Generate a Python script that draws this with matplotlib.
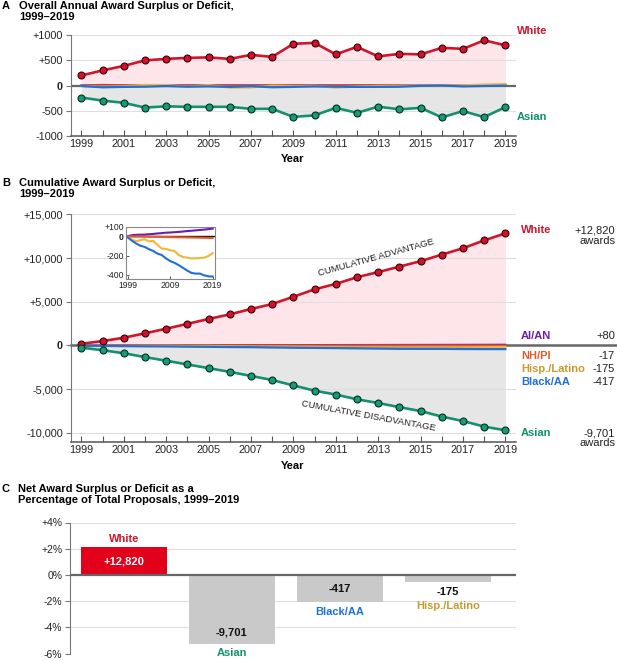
import numpy as np
import matplotlib.pyplot as plt

W, H = 617, 661

years = list(range(1999, 2020))

# annual award surplus (+) or deficit (-) per group
white = [200, 300, 390, 500, 530, 550, 560, 530, 610, 570, 830, 850, 620, 770, 580,
         630, 620, 750, 730, 900, 800]
asian = [-240, -300, -345, -440, -415, -425, -425, -425, -465, -465, -625, -595, -445,
         -545, -421, -475, -445, -635, -510, -630, -430]
aian = [2, 10, 4, 1, 1, 4, 3, 5, 3, 5, 2, 3, 3, 4, 5, 3, 4, 4, 4, 5, 5]
nhpi = [0, -1, -1, 0, -1, -1, -1, 0, -1, -1, -1, -1, -1, 0, -1, -1, -1, -1, -1, -1, -1]
hisp = [-8, -27, -15, 11, 9, -23, 7, -42, -38, -4, -14, -7, -42, -21, -7, -7, 0, 3, 4,
        18, 28]
black = [-10, -36, -28, -24, -11, -24, -18, -28, -14, -35, -28, -18, -24, -28, -28,
         -25, -7, 0, -18, -10, -3]

# panel C
groups_c = ['White', 'Asian', 'Black/AA', 'Hisp./Latino']
pct_c = [2.1, -5.28, -2.08, -0.55]
counts_c = ['+12,820', '-9,701', '-417', '-175']

RED = '#d0152d'
RED_DOT = '#d80f2a'
TEAL = '#13906e'
TEAL_DOT = '#179a77'
PINK = '#fde5e9'
GREYFILL = '#e6e6e6'
PURPLE = '#6c1db0'
NHPI = '#e35a2b'
HISP = '#f6b43a'
HISP_TXT = '#c79a2e'
BLUE = '#1f70d4'
ZERO = '#666666'
GRID = '#dedede'

plt.rcParams['font.family'] = ['Liberation Sans', 'DejaVu Sans']

fig = plt.figure(figsize=(6.17, 6.61), dpi=100)


def rect(l, t, r, b):
    return [l / W, 1 - b / H, (r - l) / W, (b - t) / H]


def ftext(x, y, s, **kw):
    kw.setdefault('va', 'center')
    fig.text(x / W, 1 - y / H, s, **kw)


def style_time_axis(ax, yticks, ylabels):
    ax.set_xlim(1998.5, 2019.5)
    ax.set_xticks(years)
    ax.set_xticklabels([str(y) if y % 2 == 1 else '' for y in years])
    ax.set_yticks(yticks)
    ax.set_yticklabels(ylabels)
    ax.tick_params(axis='x', direction='in', length=4, width=0.8, color='#555',
                   pad=2.5, labelsize=7.8, labelcolor='#222')
    ax.tick_params(axis='y', direction='out', length=3.5, width=0.8, color='#777',
                   pad=2, labelsize=7.8, labelcolor='#222')
    for s in ['top', 'right']:
        ax.spines[s].set_visible(False)
    ax.spines['left'].set_color('#777')
    ax.spines['left'].set_linewidth(0.8)
    ax.spines['bottom'].set_color('#555')
    ax.spines['bottom'].set_linewidth(1.1)
    ax.grid(axis='y', color=GRID, lw=0.8)
    ax.set_axisbelow('line')
    for lab, v in zip(ax.get_yticklabels(), yticks):
        if v == 0:
            lab.set_fontweight('bold')


yrs = np.array(years)
small = [(aian, PURPLE), (nhpi, NHPI), (hisp, HISP), (black, BLUE)]
dot_kw = dict(lw=1.9, marker='o', ms=5.0, mew=0.8, zorder=6, clip_on=False)

# ---------------- panel A
axA = fig.add_axes(rect(70.7, 35.3, 516, 135.7))
axA.set_ylim(-1000, 1000)
style_time_axis(axA, [-1000, -500, 0, 500, 1000], ['-1000', '-500', '0', '+500', '+1000'])
axA.fill_between(yrs, 0, white, color=PINK, lw=0)
axA.fill_between(yrs, 0, asian, color=GREYFILL, lw=0)
axA.axhline(0, color=ZERO, lw=1.6, zorder=2)
for vals, c in small:
    axA.plot(yrs, vals, color=c, lw=1.6, zorder=3)
axA.plot(yrs, white, color=RED, mfc=RED_DOT, mec='#300808', **dot_kw)
axA.plot(yrs, asian, color=TEAL, mfc=TEAL_DOT, mec='#06301f', **dot_kw)

ftext(2, 6, 'A', fontsize=8, fontweight='bold')
ftext(19.5, 6, 'Overall Annual Award Surplus or Deficit,', fontsize=8, fontweight='bold')
ftext(19.5, 16.5, '1999\u20132019', fontsize=8, fontweight='bold')
ftext(293, 159, 'Year', fontsize=8, fontweight='bold', ha='center')
ftext(517, 31.3, 'White', fontsize=8, fontweight='bold', color=RED)
ftext(517, 116.7, 'Asian', fontsize=8, fontweight='bold', color=TEAL)

# ---------------- panel B
white_c = np.cumsum(white)
asian_c = np.cumsum(asian)
axB = fig.add_axes(rect(70.7, 214.3, 516, 441.7))
axB.set_ylim(-11000, 15000)
style_time_axis(axB, [-10000, -5000, 0, 5000, 10000, 15000],
                ['-10,000', '-5,000', '0', '+5,000', '+10,000', '+15,000'])
axB.fill_between(yrs, 0, white_c, color=PINK, lw=0)
axB.fill_between(yrs, 0, asian_c, color=GREYFILL, lw=0)
axB.plot([0, (617 - 70.7) / (516 - 70.7)], [0, 0], transform=axB.get_yaxis_transform(),
         color=ZERO, lw=1.8, clip_on=False, zorder=2)
for vals, c in small:
    axB.plot(yrs, np.cumsum(vals), color=c, lw=1.6, zorder=3)
axB.plot(yrs, white_c, color=RED, mfc=RED_DOT, mec='#300808', **dot_kw)
axB.plot(yrs, asian_c, color=TEAL, mfc=TEAL_DOT, mec='#06301f', **dot_kw)

ftext(2, 183.3, 'B', fontsize=8, fontweight='bold')
ftext(19, 183.3, 'Cumulative Award Surplus or Deficit,', fontsize=8, fontweight='bold')
ftext(19, 194.3, '1999\u20132019', fontsize=8, fontweight='bold')
ftext(293, 465.7, 'Year', fontsize=8, fontweight='bold', ha='center')
ftext(376, 258, 'CUMULATIVE ADVANTAGE', fontsize=6.8, rotation=15.5,
      rotation_mode='anchor', ha='center', color='#222')
ftext(368, 416, 'CUMULATIVE DISADVANTAGE', fontsize=6.8, rotation=-10.5,
      rotation_mode='anchor', ha='center', color='#222')

right_labels = [
    ('White', RED, '+12,820', 230),
    ('AI/AN', PURPLE, '+80', 336),
    ('NH/PI', NHPI, '-17', 356),
    ('Hisp./Latino', HISP_TXT, '-175', 369),
    ('Black/AA', BLUE, '-417', 381.7),
    ('Asian', TEAL, '-9,701', 433.3),
]
for name, c, val, y in right_labels:
    ftext(521, y, name, fontsize=8, fontweight='bold', color=c)
    ftext(615, y, val, fontsize=8, color='#222', ha='right')
ftext(615, 240.5, 'awards', fontsize=8, color='#222', ha='right')
ftext(615, 443.5, 'awards', fontsize=8, color='#222', ha='right')

# inset
axI = fig.add_axes(rect(126, 226.7, 215, 279.3))
axI.set_zorder(10)
axI.set_xlim(1998.6, 2019.55)
axI.set_ylim(-445, 100)
axI.axhline(0, color='#111', lw=1.0, zorder=2)
for vals, c in small:
    axI.plot(yrs, np.cumsum(vals), color=c, lw=1.5, zorder=3)
axI.set_xticks([1999, 2009, 2019])
axI.set_yticks([100, 0, -200, -400])
axI.set_yticklabels(['+100', '0', '-200', '-400'])
axI.get_yticklabels()[1].set_fontweight('bold')
axI.tick_params(direction='in', length=2, width=0.7, color='#555', labelsize=6.2,
                pad=1.5, labelcolor='#222')
for s in axI.spines.values():
    s.set_color('#888')
    s.set_linewidth(0.8)

# ---------------- panel C
axC = fig.add_axes(rect(70, 522.5, 516.3, 653.5))
axC.set_xlim(-0.5, 3.635)
axC.set_ylim(-6, 4)
xs = np.arange(len(groups_c))
axC.bar(xs, pct_c, width=0.8, color=['#e3001b', '#c9c9c9', '#c9c9c9', '#c9c9c9'], zorder=2)
axC.axhline(0, color=ZERO, lw=1.6, zorder=3)
axC.set_yticks([-6, -4, -2, 0, 2, 4])
axC.set_yticklabels(['-6%', '-4%', '-2%', '0%', '+2%', '+4%'])
axC.set_xticks([])
axC.tick_params(axis='y', direction='out', length=3.5, width=0.8, color='#777',
                pad=2, labelsize=7.5, labelcolor='#222')
for s in ['top', 'right', 'bottom']:
    axC.spines[s].set_visible(False)
axC.spines['left'].set_color('#777')
axC.spines['left'].set_linewidth(0.8)
axC.grid(axis='y', color=GRID, lw=0.8, zorder=0)
axC.set_axisbelow(True)

name_colors = [RED, TEAL, BLUE, HISP_TXT]
name_y = [2.72, -5.95, -2.83, -2.38]
count_y = [1.05, -4.4, -1.08, -1.33]
count_colors = ['white', '#111', '#111', '#111']
for i in range(len(groups_c)):
    axC.text(xs[i], name_y[i], groups_c[i], ha='center', va='center', fontsize=8,
             fontweight='bold', color=name_colors[i], clip_on=False, zorder=5)
    axC.text(xs[i], count_y[i], counts_c[i], ha='center', va='center', fontsize=8,
             fontweight='bold', color=count_colors[i], zorder=5)

ftext(2, 488.5, 'C', fontsize=8, fontweight='bold')
ftext(17.7, 488.5, 'Net Award Surplus or Deficit as a', fontsize=8, fontweight='bold')
ftext(17.7, 500, 'Percentage of Total Proposals, 1999\u20132019', fontsize=8, fontweight='bold')

fig.savefig('out.png', dpi=100)
